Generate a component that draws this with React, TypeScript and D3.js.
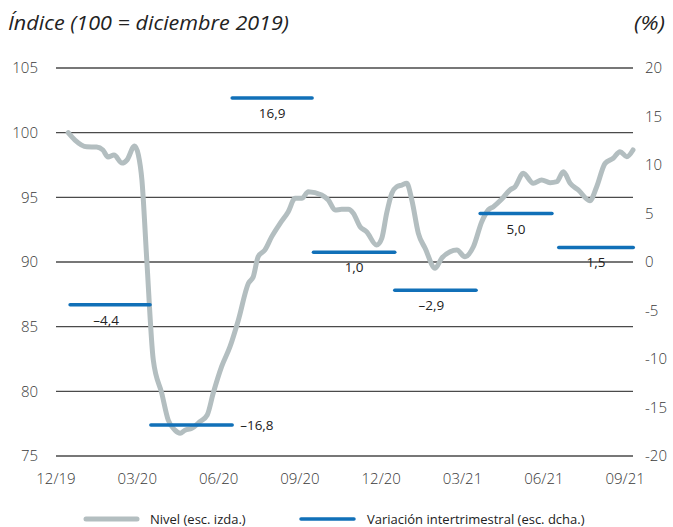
import React from "react";
import * as d3 from "d3";

// x in months since 12/19 tick (0 = 12/19, 3 = 03/20, ...)
const xTickMonths = [0, 3, 6, 9, 12, 15, 18, 21];
const xTickLabels = ["12/19", "03/20", "06/20", "09/20", "12/20", "03/21", "06/21", "09/21"];
const leftTicks = [75, 80, 85, 90, 95, 100, 105];
const rightTicks = [-20, -15, -10, -5, 0, 5, 10, 15, 20];

// Nivel (esc. izda.)
const nivelMonths = [
  0.45, 0.7, 1.13, 1.5, 1.73, 1.92, 2.14, 2.44, 2.62, 2.9, 3.04, 3.17, 3.35, 3.59, 3.9, 4.14, 4.39, 4.58,
  4.76, 5.01, 5.31, 5.58, 5.8, 6.11, 6.42, 6.73, 7.1, 7.28, 7.46, 7.71, 7.96, 8.27, 8.57, 8.82, 9.07, 9.31,
  9.8, 10.05, 10.3, 10.54, 10.79, 10.97, 11.22, 11.46, 11.83, 12.02, 12.2, 12.39, 12.57, 12.76, 12.94, 13.13,
  13.37, 13.62, 13.99, 14.23, 14.54, 14.79, 15.09, 15.4, 15.71, 15.95, 16.14, 16.45, 16.75, 16.94, 17.24,
  17.61, 17.92, 18.23, 18.48, 18.72, 18.97, 19.27, 19.7, 19.95, 20.26, 20.56, 20.81, 21.06, 21.29,
];
const nivelValues = [
  100.0, 99.43, 98.91, 98.89, 98.66, 98.12, 98.27, 97.65, 97.89, 98.97, 98.27, 96.34, 90.15, 82.42, 79.87,
  77.78, 77.0, 76.76, 77.0, 77.14, 77.65, 78.17, 79.85, 81.91, 83.45, 85.52, 88.36, 88.87, 90.41, 90.93,
  91.96, 92.99, 93.89, 94.92, 94.92, 95.44, 95.18, 94.79, 94.02, 94.07, 94.07, 93.77, 92.73, 92.34, 91.31,
  91.83, 93.77, 95.31, 95.82, 95.95, 96.09, 94.79, 92.22, 91.06, 89.52, 90.29, 90.8, 90.93, 90.41, 91.18,
  93.12, 94.02, 94.28, 94.87, 95.57, 95.82, 96.86, 96.09, 96.34, 96.13, 96.21, 96.98, 96.09, 95.57, 94.74,
  95.82, 97.63, 98.02, 98.53, 98.14, 98.66,
];

// Variación intertrimestral (esc. dcha.)
const varStart = [0.52, 3.5, 6.5, 9.5, 12.5, 15.65, 18.55];
const varEnd = [3.47, 6.5, 9.45, 12.5, 15.5, 18.3, 21.3];
const varValues = [-4.4, -16.8, 16.9, 1.0, -2.9, 5.0, 1.5];
const varLabels = ["\u20134,4", "\u201316,8", "16,9", "1,0", "\u20132,9", "5,0", "1,5"];
const varLabelSide = ["below", "right", "below", "below", "below", "below", "below"];

const W = 673;
const H = 527;
const FONT = "'Open Sans', 'Noto Sans', sans-serif";
const GRAY = "#b3bec0";
const BLUE = "#1170b8";

export default function App() {
  const x = d3.scaleLinear().domain([0, 21.29]).range([56, 633]);
  const yL = d3.scaleLinear().domain([75, 105]).range([456, 68]);
  const yR = d3.scaleLinear().domain([-20, 20]).range([456, 68]);

  const pts = nivelMonths.map((m, i) => [m, nivelValues[i]] as [number, number]);
  const line = d3
    .line<[number, number]>()
    .x((d) => x(d[0]))
    .y((d) => yL(d[1]))
    .curve(d3.curveMonotoneX);

  return (
    <svg width={W} height={H} style={{ position: "absolute", left: 0, top: 0, background: "#fff" }}>
      <text x={8} y={30} fontFamily={FONT} fontStyle="italic" fontSize={20} fill="#222"
        textLength={281} lengthAdjust="spacingAndGlyphs">
        Índice (100 = diciembre 2019)
      </text>
      <text x={665} y={30} textAnchor="end" fontFamily={FONT} fontStyle="italic" fontSize={20} fill="#222"
        textLength={31} lengthAdjust="spacingAndGlyphs">
        (%)
      </text>

      {leftTicks.map((t) => (
        <line key={"g" + t} x1={56} x2={633} y1={yL(t)} y2={yL(t)} stroke="#4a4a4a" strokeWidth={1.3} />
      ))}
      {leftTicks.map((t) => (
        <text key={"l" + t} x={38} y={yL(t)} dy="0.35em" textAnchor="end" fontFamily={FONT}
          fontSize={15} fill="#3a3a3a" fontWeight={300}>
          {t}
        </text>
      ))}
      {rightTicks.map((t) => (
        <text key={"r" + t} x={645} y={yR(t)} dy="0.35em" textAnchor="start" fontFamily={FONT}
          fontSize={15} fill="#3a3a3a" fontWeight={300}>
          {t}
        </text>
      ))}
      {xTickMonths.map((m, i) => (
        <text key={"x" + m} x={x(m)} y={479} dy="0.35em" textAnchor="middle" fontFamily={FONT}
          fontSize={15} fill="#3a3a3a" fontWeight={300}>
          {xTickLabels[i]}
        </text>
      ))}

      <path d={line(pts) || ""} fill="none" stroke={GRAY} strokeWidth={5} strokeLinejoin="round"
        strokeLinecap="round" />

      {varValues.map((v, i) => (
        <line key={"v" + i} x1={x(varStart[i])} x2={x(varEnd[i])} y1={yR(v)} y2={yR(v)} stroke={BLUE}
          strokeWidth={3.5} strokeLinecap="round" />
      ))}
      {varValues.map((v, i) =>
        varLabelSide[i] === "right" ? (
          <text key={"vl" + i} x={x(varEnd[i]) + 8} y={yR(v)} dy="0.35em" fontFamily={FONT} fontSize={13.5}
            fill="#222">
            {varLabels[i]}
          </text>
        ) : (
          <text key={"vl" + i} x={(x(varStart[i]) + x(varEnd[i])) / 2 - (v < 0 ? 4 : 0)} y={yR(v) + 20}
            textAnchor="middle" fontFamily={FONT} fontSize={13.5} fill="#222">
            {varLabels[i]}
          </text>
        )
      )}

      <line x1={86} x2={137} y1={519} y2={519} stroke={GRAY} strokeWidth={5} strokeLinecap="round" />
      <text x={150} y={519} dy="0.35em" fontFamily={FONT} fontSize={13} fill="#222">
        Nivel (esc. izda.)
      </text>
      <line x1={301} x2={354} y1={519} y2={519} stroke={BLUE} strokeWidth={3.5} strokeLinecap="round" />
      <text x={367} y={519} dy="0.35em" fontFamily={FONT} fontSize={13} fill="#222">
        Variación intertrimestral (esc. dcha.)
      </text>
    </svg>
  );
}
